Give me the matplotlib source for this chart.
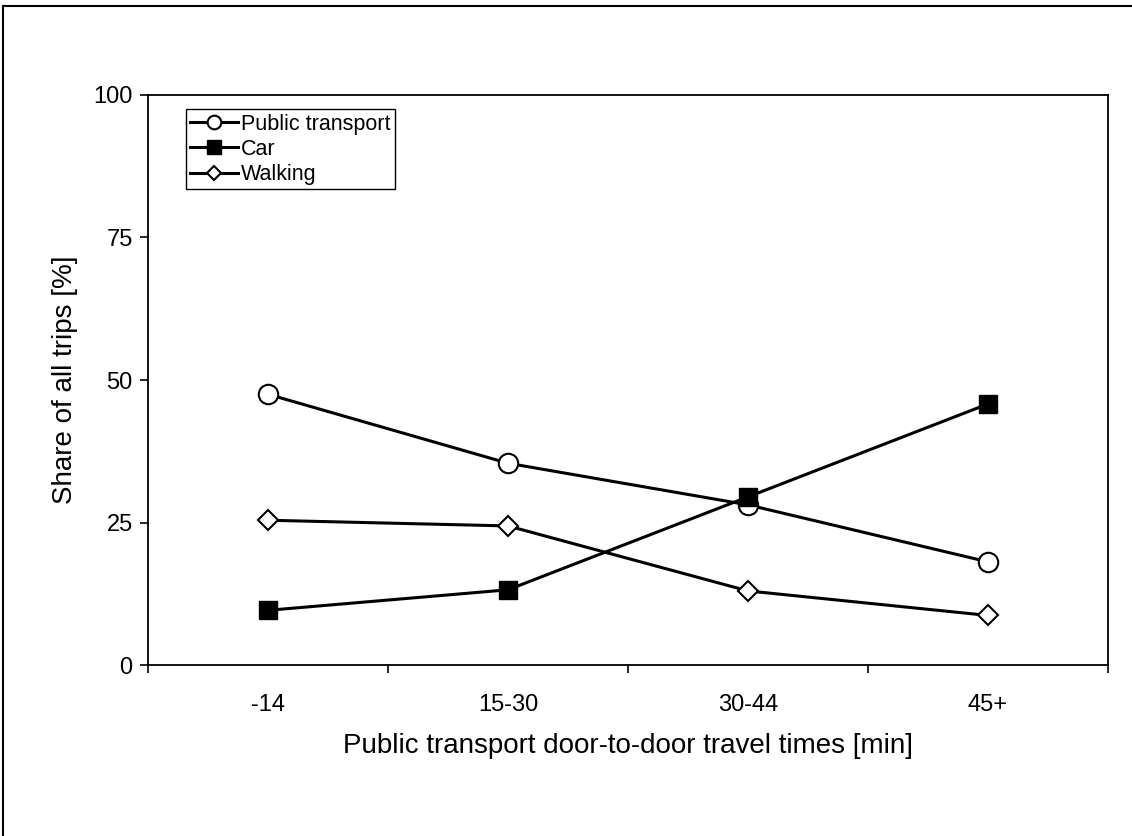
import matplotlib.pyplot as plt
import numpy as np
from matplotlib.lines import Line2D

categories = ["-14", "15-30", "30-44", "45+"]
public_transport = [47.5, 35.4, 28.1, 18.1]
car = [9.6, 13.2, 29.5, 45.8]
walking = [25.4, 24.4, 13.0, 8.7]

plt.rcParams['font.family'] = ['Liberation Sans', 'DejaVu Sans']

fig = plt.figure(figsize=(11.32, 8.36), dpi=100)
ax = fig.add_axes([0.1307, 0.2045, 0.8481, 0.6819])

x = np.arange(len(categories))
lw = 2.2
ax.plot(x, public_transport, color='black', lw=lw, marker='o', ms=14,
        mfc='white', mec='black', mew=1.5, label='Public transport')
ax.plot(x, car, color='black', lw=lw, marker='s', ms=13.5,
        mfc='black', mec='black', label='Car')
ax.plot(x, walking, color='black', lw=lw, marker='D', ms=10,
        mfc='white', mec='black', mew=1.5, label='Walking')

ax.set_xlim(-0.5, len(categories) - 0.5)
ax.set_ylim(0, 100)
ax.set_yticks([0, 25, 50, 75, 100])
ax.set_xticks(x)
ax.set_xticklabels(categories)
ax.set_xticks(np.arange(-0.5, len(categories)), minor=True)
ax.tick_params(axis='x', which='major', length=0, pad=21, labelsize=17)
ax.tick_params(axis='x', which='minor', length=6, width=1.2, direction='out')
ax.tick_params(axis='y', length=6, width=1.2, direction='out', pad=5, labelsize=17)

for s in ax.spines.values():
    s.set_linewidth(1.3)

ax.set_xlabel("Public transport door-to-door travel times [min]", fontsize=20, labelpad=12)
ax.set_ylabel("Share of all trips [%]", fontsize=20, labelpad=11)

leg = ax.legend(loc='upper left', bbox_to_anchor=(0.0396, 0.975), fontsize=15.5,
                frameon=True, fancybox=False, edgecolor='black', framealpha=1,
                handlelength=2.2, handletextpad=0.15, borderpad=0.2,
                labelspacing=0.2, borderaxespad=0, markerscale=0.7)
leg.get_frame().set_linewidth(1.0)

# outer frame
fig.add_artist(Line2D([0.003, 0.003], [0.0, 0.993], transform=fig.transFigure,
                      color='black', lw=1.5))
fig.add_artist(Line2D([0.003, 1.0], [0.993, 0.993], transform=fig.transFigure,
                      color='black', lw=1.5))

fig.savefig('out.png', dpi=100)
